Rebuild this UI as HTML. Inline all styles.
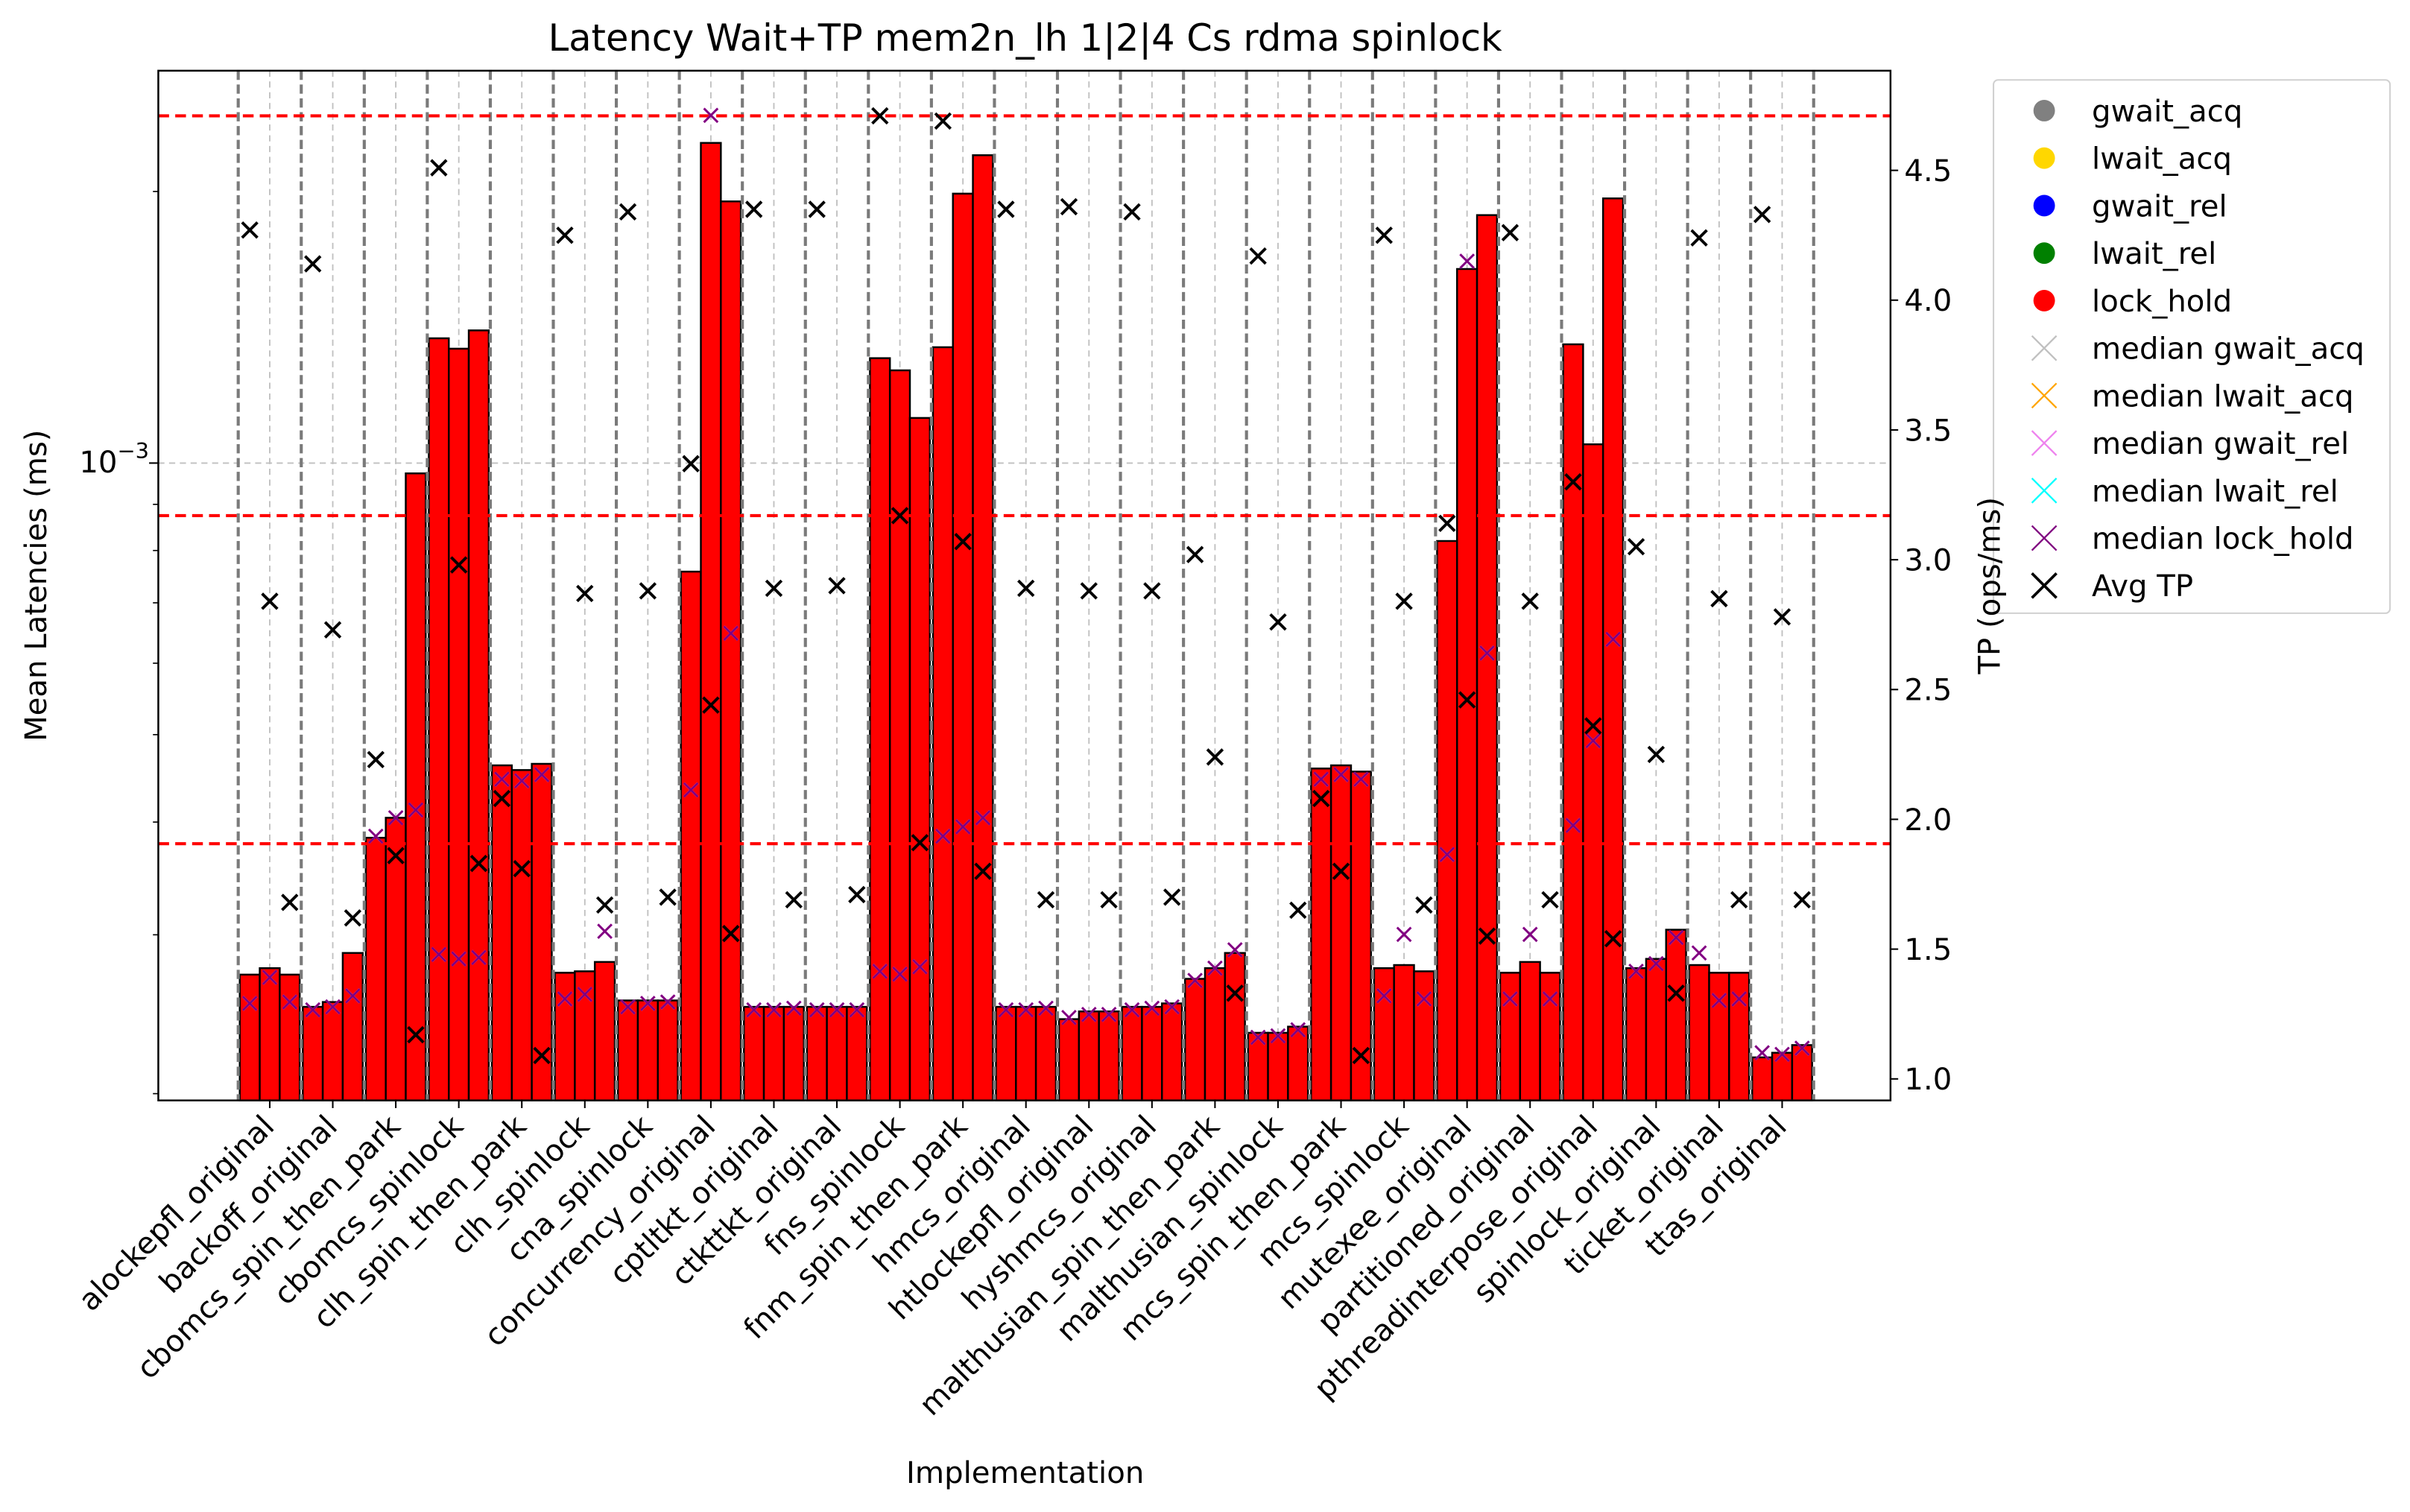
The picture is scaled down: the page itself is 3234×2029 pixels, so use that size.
<!DOCTYPE html>
<html><head><meta charset="utf-8"><style>
html,body{margin:0;padding:0;background:#fff;}
svg{display:block;font-family:"DejaVu Sans","Liberation Sans",sans-serif;}
</style></head><body>
<svg id="chart" width="3234" height="2029" viewBox="0 0 1568 983.8" preserveAspectRatio="none" xmlns="http://www.w3.org/2000/svg"></svg>
<script>
const categories=["alockepfl_original","backoff_original","cbomcs_spin_then_park","cbomcs_spinlock","clh_spin_then_park","clh_spinlock","cna_spinlock","concurrency_original","cptltkt_original","ctkttkt_original","fns_spinlock","fnm_spin_then_park","hmcs_original","htlockepfl_original","hyshmcs_original","malthusian_spin_then_park","malthusian_spinlock","mcs_spin_then_park","mcs_spinlock","mutexee_original","partitioned_original","pthreadinterpose_original","spinlock_original","ticket_original","ttas_original"];
// lock_hold mean latency (ms), per 1|2|4 Cs
const lockHold=[[2.71e-4,2.755e-4,2.71e-4],[2.496e-4,2.527e-4,2.864e-4],[3.843e-4,4.044e-4,9.74e-4],[1.375e-3,1.339e-3,1.403e-3],[4.623e-4,4.568e-4,4.641e-4],[2.723e-4,2.733e-4,2.799e-4],[2.537e-4,2.537e-4,2.537e-4],[7.58e-4,2.264e-3,1.95e-3],[2.496e-4,2.496e-4,2.496e-4],[2.496e-4,2.496e-4,2.496e-4],[1.307e-3,1.267e-3,1.122e-3],[1.344e-3,1.989e-3,2.194e-3],[2.496e-4,2.496e-4,2.496e-4],[2.419e-4,2.467e-4,2.467e-4],[2.496e-4,2.496e-4,2.518e-4],[2.681e-4,2.755e-4,2.864e-4],[2.336e-4,2.336e-4,2.373e-4],[4.586e-4,4.623e-4,4.55e-4],[2.755e-4,2.777e-4,2.733e-4],[8.196e-4,1.641e-3,1.883e-3],[2.723e-4,2.799e-4,2.723e-4],[1.354e-3,1.049e-3,1.965e-3],[2.755e-4,2.821e-4,3.039e-4],[2.777e-4,2.723e-4,2.723e-4],[2.194e-4,2.22e-4,2.264e-4]];
const medianLockHold=[[2.518e-4,2.691e-4,2.527e-4],[2.477e-4,2.496e-4,2.567e-4],[3.858e-4,4.044e-4,4.125e-4],[2.853e-4,2.821e-4,2.831e-4],[4.462e-4,4.444e-4,4.515e-4],[2.547e-4,2.577e-4,3.027e-4],[2.496e-4,2.518e-4,2.527e-4],[4.342e-4,2.429e-3,6.477e-4],[2.477e-4,2.477e-4,2.487e-4],[2.477e-4,2.477e-4,2.477e-4],[2.733e-4,2.713e-4,2.765e-4],[3.858e-4,3.952e-4,4.044e-4],[2.477e-4,2.477e-4,2.487e-4],[2.429e-4,2.448e-4,2.448e-4],[2.477e-4,2.487e-4,2.496e-4],[2.67e-4,2.755e-4,2.887e-4],[2.309e-4,2.318e-4,2.354e-4],[4.462e-4,4.515e-4,4.462e-4],[2.567e-4,3.003e-4,2.547e-4],[3.682e-4,1.674e-3,6.157e-4],[2.547e-4,3.003e-4,2.547e-4],[3.966e-4,4.923e-4,6.377e-4],[2.733e-4,2.787e-4,2.979e-4],[2.864e-4,2.537e-4,2.547e-4],[2.22e-4,2.211e-4,2.246e-4]];
const avgTP=[[4.27,2.84,1.68],[4.14,2.73,1.62],[2.23,1.86,1.17],[4.51,2.98,1.83],[2.08,1.81,1.09],[4.25,2.87,1.67],[4.34,2.88,1.70],[3.37,2.44,1.56],[4.35,2.89,1.69],[4.35,2.90,1.71],[4.71,3.17,1.91],[4.69,3.07,1.80],[4.35,2.89,1.69],[4.36,2.88,1.69],[4.34,2.88,1.70],[3.02,2.24,1.33],[4.17,2.76,1.65],[2.08,1.80,1.09],[4.25,2.84,1.67],[3.14,2.46,1.55],[4.26,2.84,1.69],[3.30,2.36,1.54],[3.05,2.25,1.33],[4.24,2.85,1.69],[4.33,2.78,1.69]];
const tpLines=[4.71,3.17,1.906];
const rightTicks=[1.0,1.5,2.0,2.5,3.0,3.5,4.0,4.5];
const legendLabels=["gwait_acq","lwait_acq","gwait_rel","lwait_rel","lock_hold","median gwait_acq","median lwait_acq","median gwait_rel","median lwait_rel","median lock_hold","Avg TP"];
const legendColors=["#808080","#ffd700","#0000ff","#008000","#ff0000","#c0c0c0","#ffa500","#ee82ee","#00ffff","#800080","#000000"];

const svg=document.getElementById('chart');
const NS="http://www.w3.org/2000/svg";
const L=103,R=1230,T=46,B=716;
const FS=19.5;
function yL(v){return 301.3-587*Math.log10(v/1e-3);}
function yR(v){return 702-(v-1)*168.9;}
function gx(i){return 175.5+41*i;}
function mk(tag,attrs,parent){const e=document.createElementNS(NS,tag);for(const k in attrs)e.setAttribute(k,attrs[k]);(parent||svg).appendChild(e);return e;}

const plot=mk('g',{});


const hg=mk('line',{x1:L,x2:R,y1:yL(1e-3),y2:yL(1e-3),stroke:'#c0c0c0','stroke-width':0.9,'stroke-dasharray':'4,3'},plot);


categories.forEach((c,i)=>{
  const g=mk('line',{x1:gx(i),x2:gx(i),y1:T,y2:B,stroke:'#c0c0c0','stroke-width':0.9,'stroke-dasharray':'4,3'},plot);
  
  
});
lockHold.forEach((arr,i)=>{
  arr.forEach((v,j)=>{
    const x=gx(i)-19.5+j*13;const y=yL(v);
    const b=mk('rect',{x:x,y:y,width:13,height:B-y,fill:'#ff0000',stroke:'#000','stroke-width':1.2},plot);
    
    
  });
});
for(let i=0;i<=categories.length;i++){
  const x=155+41*i;
  const l=mk('line',{x1:x,x2:x,y1:T,y2:B,stroke:'#7a7a7a','stroke-width':2,'stroke-dasharray':'6,3'},plot);
  
  
}
tpLines.forEach(v=>{
  const l=mk('line',{x1:L,x2:R,y1:yR(v),y2:yR(v),stroke:'#ff0000','stroke-width':2,'stroke-dasharray':'7,4'},plot);
  
  
});
function cross(x,y,s,color,w,name){
  const g=mk('g',{stroke:color,'stroke-width':w},plot);
  mk('line',{x1:x-s,y1:y-s,x2:x+s,y2:y+s},g);mk('line',{x1:x-s,y1:y+s,x2:x+s,y2:y-s},g);
  
  
}
medianLockHold.forEach((arr,i)=>arr.forEach((v,j)=>{
  const x=gx(i)-13+j*13;
  cross(x,yL(v),4.5,'#ee82ee',1.5,'median-gwait-rel-marker');
  cross(x,yL(v),4.5,'#800080',1.4,'median-lock-hold-marker');
}));
avgTP.forEach((arr,i)=>arr.forEach((v,j)=>{
  const x=gx(i)-13+j*13;
  cross(x,yR(v),5,'#000',1.9,'avg-tp-marker');
}));
const fr=mk('rect',{x:L,y:T,width:R-L,height:B-T,fill:'none',stroke:'#000','stroke-width':1.2});


[2e-4,3e-4,4e-4,5e-4,6e-4,7e-4,8e-4,9e-4,2e-3].forEach(v=>{
  const t=mk('line',{x1:L-3.5,x2:L,y1:yL(v),y2:yL(v),stroke:'#000','stroke-width':0.8});
  
  
});
const mt=mk('line',{x1:L-6,x2:L,y1:yL(1e-3),y2:yL(1e-3),stroke:'#000','stroke-width':1});


const yl=mk('text',{x:97,y:yL(1e-3)+6,'text-anchor':'end','font-size':FS});
yl.innerHTML='10<tspan dy="-9" font-size="14">−3</tspan>';


rightTicks.forEach(v=>{
  const t=mk('line',{x1:R,x2:R+5,y1:yR(v),y2:yR(v),stroke:'#000','stroke-width':1});
  
  
  const tx=mk('text',{x:R+9,y:yR(v)+7,'font-size':FS});
  tx.textContent=v.toFixed(1);
  
  
});
categories.forEach((c,i)=>{
  const t=mk('line',{x1:gx(i),x2:gx(i),y1:B,y2:B+5,stroke:'#000','stroke-width':1});
  
  
  const tx=mk('text',{x:gx(i)+4,y:B+18,'text-anchor':'end','font-size':FS,transform:`rotate(-45 ${gx(i)+4} ${B+18})`});
  tx.textContent=c;
  
  
});
function txt(s,attrs,name){const e=mk('text',attrs);e.textContent=s;return e;}
txt('Latency Wait+TP mem2n_lh 1|2|4 Cs rdma spinlock',{x:667,y:33,'text-anchor':'middle','font-size':24},'chart-title');
txt('Mean Latencies (ms)',{x:30,y:381,'text-anchor':'middle','font-size':FS,transform:'rotate(-90 30 381)'},'y-axis-title');
txt('Implementation',{x:667,y:965,'text-anchor':'middle','font-size':FS},'x-axis-title');
const lg=mk('g',{});


mk('rect',{x:1297,y:52,width:258,height:347,rx:3,fill:'#fff','fill-opacity':0.8,stroke:'#d0d0d0','stroke-width':1},lg);
legendLabels.forEach((s,i)=>{
  const y=72+i*30.9;
  const e=mk('g',{},lg);
  
  
  if(i<5){mk('circle',{cx:1330,cy:y,r:7,fill:legendColors[i]},e);}
  else{const w=i===10?1.8:1.1;mk('line',{x1:1322,y1:y-8,x2:1338,y2:y+8,stroke:legendColors[i],'stroke-width':w},e);mk('line',{x1:1322,y1:y+8,x2:1338,y2:y-8,stroke:legendColors[i],'stroke-width':w},e);}
  const t=mk('text',{x:1361,y:y+7,'font-size':FS},e);t.textContent=s;
});
txt('TP (ops/ms)',{x:1301,y:381,'text-anchor':'middle','font-size':FS,transform:'rotate(-90 1301 381)'},'right-axis-title');
</script>
</body></html>
